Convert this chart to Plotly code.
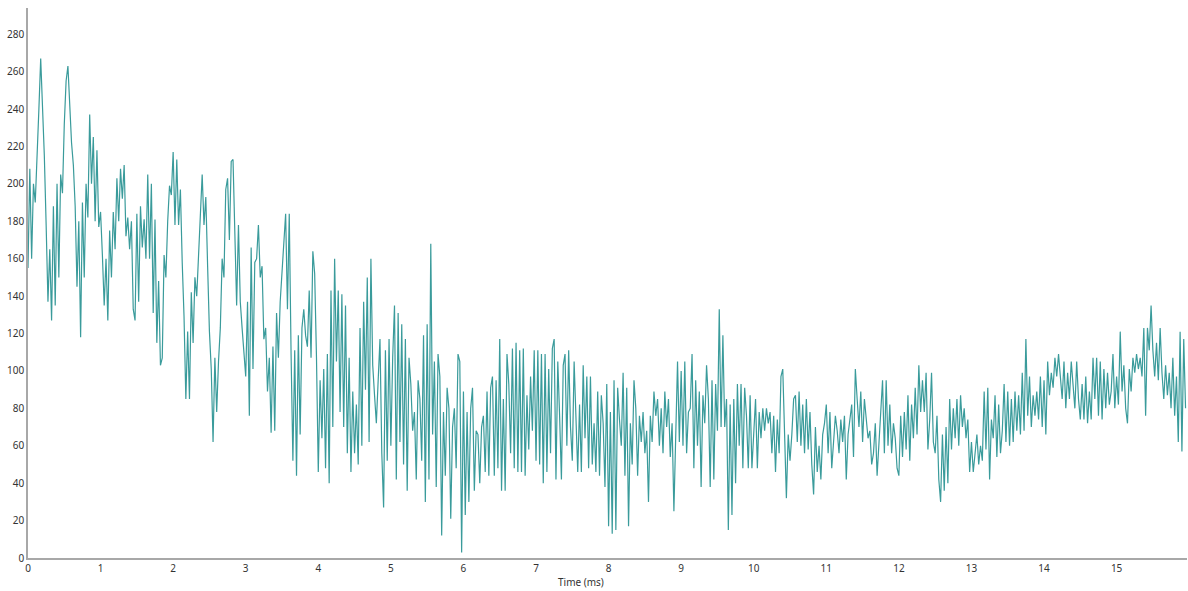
import plotly.graph_objects as go

# Sampling step of the recorded signal (ms)
dt_ms = 0.025

# Signal amplitude, one row per millisecond (40 samples each)
amp_0 = [155, 208, 160, 200, 190, 220, 240, 267, 242, 215, 178, 137, 165, 127, 188, 135, 200, 150, 205, 195,
         232, 255, 263, 238, 222, 210, 188, 145, 180, 118, 190, 150, 200, 182, 237, 200, 225, 180, 218, 177]
amp_1 = [185, 162, 135, 160, 127, 175, 150, 185, 165, 203, 180, 208, 192, 210, 172, 182, 165, 180, 133, 127,
         184, 137, 188, 166, 181, 160, 205, 160, 200, 131, 181, 115, 148, 103, 107, 162, 150, 180, 199, 194]
amp_2 = [217, 178, 213, 178, 197, 158, 129, 85, 121, 85, 142, 115, 150, 140, 160, 186, 205, 178, 193, 156,
         121, 101, 62, 107, 78, 105, 123, 160, 150, 197, 203, 170, 212, 213, 178, 135, 178, 137, 123, 109]
amp_3 = [97, 137, 76, 166, 101, 158, 160, 178, 150, 156, 117, 123, 89, 107, 67, 113, 68, 131, 107, 137,
         154, 168, 184, 133, 184, 109, 52, 111, 44, 119, 66, 123, 133, 119, 113, 143, 107, 164, 152, 107]
amp_4 = [46, 95, 64, 101, 48, 109, 40, 143, 70, 160, 105, 143, 78, 141, 70, 135, 56, 107, 46, 89,
         56, 82, 50, 123, 60, 137, 90, 150, 62, 160, 103, 87, 72, 95, 117, 56, 27, 111, 52, 117]
amp_5 = [60, 107, 135, 42, 131, 62, 125, 50, 117, 36, 107, 93, 68, 78, 42, 95, 85, 52, 119, 30,
         125, 42, 168, 66, 105, 38, 109, 97, 12, 78, 44, 91, 80, 21, 70, 80, 48, 109, 105, 3]
amp_6 = [89, 23, 78, 30, 80, 91, 36, 68, 66, 40, 70, 76, 46, 89, 44, 91, 97, 44, 95, 48,
         117, 36, 85, 36, 109, 93, 56, 112, 48, 115, 46, 111, 46, 112, 44, 87, 58, 97, 68, 111]
amp_7 = [52, 111, 50, 109, 40, 109, 46, 101, 56, 112, 117, 42, 105, 76, 42, 103, 109, 60, 111, 70,
         52, 105, 80, 46, 82, 46, 103, 64, 97, 48, 97, 50, 72, 46, 89, 44, 87, 72, 38, 93]
amp_8 = [17, 78, 13, 95, 15, 91, 74, 60, 99, 44, 91, 17, 72, 50, 95, 80, 44, 76, 62, 78,
         56, 68, 30, 76, 62, 89, 76, 85, 60, 80, 56, 89, 70, 85, 54, 72, 25, 68, 105, 62]
amp_9 = [100, 60, 105, 56, 78, 80, 109, 48, 95, 60, 89, 38, 87, 72, 103, 85, 38, 95, 42, 93,
         68, 133, 70, 119, 70, 85, 15, 82, 23, 85, 40, 93, 60, 93, 48, 91, 76, 48, 87, 48]
amp_10 = [70, 85, 48, 78, 64, 80, 68, 80, 72, 78, 56, 76, 46, 74, 56, 97, 101, 68, 32, 66,
          52, 66, 85, 87, 62, 89, 60, 82, 56, 85, 58, 78, 50, 34, 70, 46, 60, 42, 66, 72]
amp_11 = [82, 56, 78, 48, 60, 76, 68, 56, 74, 62, 76, 42, 66, 76, 82, 54, 101, 85, 70, 89,
          62, 85, 76, 64, 68, 50, 56, 72, 44, 64, 78, 95, 56, 95, 60, 82, 56, 72, 64, 48]
amp_12 = [44, 76, 54, 78, 58, 87, 52, 82, 64, 91, 66, 103, 78, 95, 78, 99, 58, 74, 99, 62,
          56, 76, 42, 30, 66, 36, 70, 40, 85, 58, 80, 64, 85, 60, 87, 70, 80, 64, 74, 46]
amp_13 = [62, 46, 56, 66, 50, 60, 52, 89, 58, 91, 42, 74, 64, 87, 54, 82, 56, 68, 93, 62,
          89, 60, 85, 62, 89, 68, 87, 66, 99, 68, 117, 76, 97, 70, 87, 76, 89, 74, 97, 70]
amp_14 = [95, 66, 105, 87, 99, 91, 107, 97, 109, 95, 85, 105, 80, 99, 85, 105, 93, 80, 105, 85,
          74, 93, 74, 97, 72, 89, 74, 107, 85, 107, 76, 105, 74, 101, 80, 99, 82, 89, 109, 80]
amp_15 = [97, 82, 121, 89, 103, 80, 72, 101, 89, 107, 99, 109, 101, 107, 97, 123, 76, 123, 111, 135,
          111, 97, 115, 95, 123, 99, 85, 103, 87, 99, 80, 107, 76, 97, 62, 121, 57, 117, 80]

amplitude = (amp_0 + amp_1 + amp_2 + amp_3 + amp_4 + amp_5 + amp_6 + amp_7 +
             amp_8 + amp_9 + amp_10 + amp_11 + amp_12 + amp_13 + amp_14 + amp_15)
time_ms = [i * dt_ms for i in range(len(amplitude))]

x_ticks = list(range(0, 16))
y_ticks = list(range(0, 281, 20))
x_title = "Time (ms)"

fig = go.Figure(
    go.Scatter(
        x=time_ms,
        y=amplitude,
        mode="lines",
        line=dict(color="#3a9b9b", width=1.2),
        hoverinfo="x+y",
    )
)

axis_font = dict(family="Noto Sans, DejaVu Sans, sans-serif", size=10, color="#333333")

fig.update_layout(
    width=1188,
    height=591,
    margin=dict(l=28, r=1, t=8, b=33),
    paper_bgcolor="white",
    plot_bgcolor="white",
    showlegend=False,
    font=axis_font,
    annotations=[
        dict(
            text=x_title,
            xref="paper", yref="paper",
            x=0.477, y=0,
            xanchor="center", yanchor="top",
            yshift=-15,
            showarrow=False,
            font=axis_font,
        )
    ],
)
fig.update_xaxes(
    range=[0, 15.97],
    tickvals=x_ticks,
    ticktext=[str(v) for v in x_ticks],
    showgrid=False,
    zeroline=False,
    showline=True,
    linecolor="#a8a8a8",
    linewidth=1.5,
    ticks="",
    tickfont=axis_font,
    automargin=False,
)
fig.update_yaxes(
    range=[0, 294],
    tickvals=y_ticks,
    ticktext=[str(v) for v in y_ticks],
    showgrid=False,
    zeroline=False,
    showline=True,
    linecolor="#a8a8a8",
    linewidth=1.5,
    ticks="",
    ticklabelstandoff=0,
    tickfont=axis_font,
    automargin=False,
)

# Remove the browser's default 8 px body margin so the figure fills the window exactly.
fig.write_html(
    "out.html",
    config={"displayModeBar": False},
    post_script="document.body.style.margin='0px';",
)
